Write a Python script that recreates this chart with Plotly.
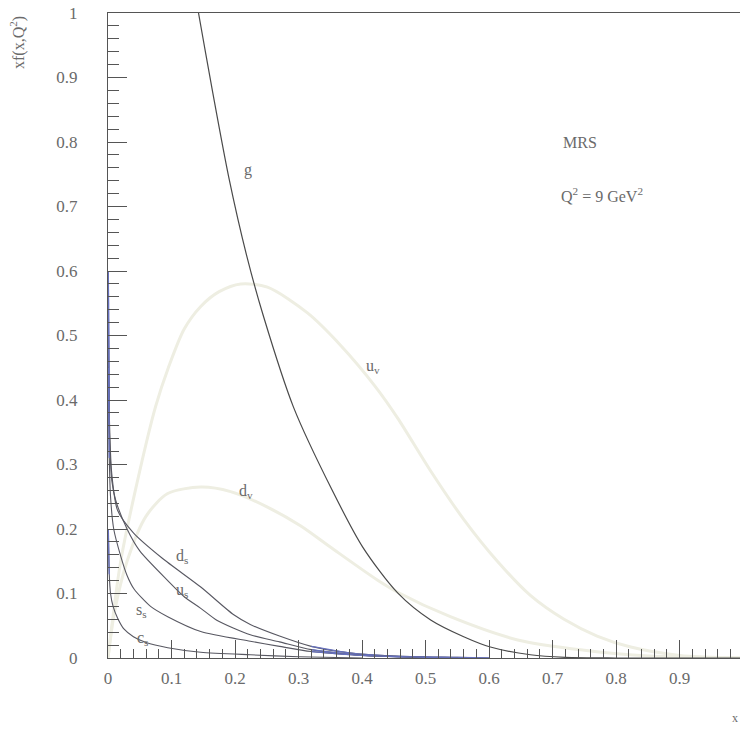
import plotly.graph_objects as go

# Parton distributions xf(x, Q^2) at Q^2 = 9 GeV^2 (MRS set)
g_x = [0.12, 0.1425, 0.165, 0.19, 0.218, 0.245, 0.292, 0.353, 0.401, 0.456,
       0.508, 0.56, 0.602, 0.665, 0.72, 0.8, 0.9, 1.0]
g_y = [1.126, 1.0, 0.876, 0.746, 0.625, 0.529, 0.389, 0.26, 0.172, 0.101,
       0.059, 0.033, 0.017, 0.005, 0.001, 0.0, 0.0, 0.0]

uv_x = [0.0, 0.02, 0.05, 0.075, 0.095, 0.12, 0.146, 0.175, 0.209, 0.251, 0.314,
        0.366, 0.42, 0.456, 0.508, 0.56, 0.613, 0.665, 0.718, 0.77, 0.823, 0.9, 1.0]
uv_y = [0.0, 0.15, 0.29, 0.39, 0.45, 0.51, 0.545, 0.568, 0.58, 0.575, 0.535,
        0.485, 0.422, 0.372, 0.29, 0.215, 0.15, 0.097, 0.06, 0.034, 0.017, 0.004, 0.0]

dv_x = [0.0, 0.01, 0.03, 0.06, 0.094, 0.146, 0.193, 0.251, 0.303, 0.35, 0.424,
        0.456, 0.539, 0.645, 0.75, 0.85, 1.0]
dv_y = [0.0, 0.07, 0.15, 0.22, 0.255, 0.265, 0.258, 0.234, 0.205, 0.172, 0.121,
        0.102, 0.064, 0.028, 0.012, 0.003, 0.0]

ds_x = [0.0005, 0.002, 0.006, 0.015, 0.04, 0.085, 0.146, 0.198, 0.224, 0.27,
        0.32, 0.38, 0.45, 0.55, 0.6]
ds_y = [0.60, 0.38, 0.285, 0.229, 0.194, 0.155, 0.11, 0.067, 0.052, 0.034,
        0.018, 0.008, 0.003, 0.001, 0.0]

us_x = [0.0005, 0.002, 0.006, 0.012, 0.03, 0.05, 0.094, 0.12, 0.146, 0.172,
        0.198, 0.224, 0.27, 0.32, 0.38, 0.45, 0.55]
us_y = [0.58, 0.36, 0.275, 0.245, 0.20, 0.166, 0.12, 0.095, 0.077, 0.058,
        0.046, 0.036, 0.025, 0.013, 0.006, 0.002, 0.0]

ss_x = [0.0005, 0.002, 0.004, 0.009, 0.02, 0.03, 0.041, 0.067, 0.094, 0.146,
        0.224, 0.27, 0.32, 0.4, 0.5]
ss_y = [0.45, 0.31, 0.25, 0.20, 0.158, 0.128, 0.107, 0.08, 0.064, 0.041,
        0.026, 0.018, 0.01, 0.004, 0.001]

cs_x = [0.0005, 0.002, 0.004, 0.008, 0.015, 0.025, 0.04, 0.06, 0.094, 0.146, 0.224, 0.3, 0.4]
cs_y = [0.20, 0.13, 0.10, 0.08, 0.062, 0.045, 0.033, 0.024, 0.016, 0.009, 0.005, 0.002, 0.0]

x_ticks = [0, 0.1, 0.2, 0.3, 0.4, 0.5, 0.6, 0.7, 0.8, 0.9]
x_tick_text = ["0", "0.1", "0.2", "0.3", "0.4", "0.5", "0.6", "0.7", "0.8", "0.9"]
y_ticks = [0, 0.1, 0.2, 0.3, 0.4, 0.5, 0.6, 0.7, 0.8, 0.9, 1.0]
y_tick_text = ["0", "0.1", "0.2", "0.3", "0.4", "0.5", "0.6", "0.7", "0.8", "0.9", "1"]

SERIF = "'Liberation Serif', 'Times New Roman', 'DejaVu Serif', serif"
INK = "#555555"
TEXT = "#6a6a6a"
VALENCE = "#eeeee2"
SEA = "#585862"
SEA_DENSE = "#6670bd"

fig = go.Figure()

# faint valence curves
for xs, ys in [(uv_x, uv_y), (dv_x, dv_y)]:
    fig.add_trace(go.Scatter(x=xs, y=ys, mode="lines",
                             line=dict(color=VALENCE, width=3, shape="spline", smoothing=0.8),
                             hoverinfo="skip", showlegend=False))

# gluon
fig.add_trace(go.Scatter(x=g_x, y=g_y, mode="lines",
                         line=dict(color="#4a4a4a", width=1.2, shape="spline", smoothing=0.8),
                         hoverinfo="skip", showlegend=False))

# sea quarks; the crowded small-x and large-x stretches are drawn in blue
for xs, ys in [(ds_x, ds_y), (us_x, us_y), (ss_x, ss_y), (cs_x, cs_y)]:
    fig.add_trace(go.Scatter(x=xs, y=ys, mode="lines",
                             line=dict(color=SEA, width=1.1, shape="spline", smoothing=0.7),
                             hoverinfo="skip", showlegend=False))
    lo = [(a, b) for a, b in zip(xs, ys) if a <= 0.002]
    hi = [(a, b) for a, b in zip(xs, ys) if a >= 0.32]
    for seg in (lo, hi):
        if len(seg) > 1:
            fig.add_trace(go.Scatter(x=[p[0] for p in seg], y=[p[1] for p in seg], mode="lines",
                                     line=dict(color=SEA_DENSE, width=1.3, shape="spline", smoothing=0.5),
                                     hoverinfo="skip", showlegend=False))

labels = [
    (0.22, 0.757, "g"),
    (0.417, 0.452, "u<sub>v</sub>"),
    (0.217, 0.258, "d<sub>v</sub>"),
    (0.116, 0.158, "d<sub>s</sub>"),
    (0.116, 0.105, "u<sub>s</sub>"),
    (0.052, 0.073, "s<sub>s</sub>"),
    (0.055, 0.030, "c<sub>s</sub>"),
]
for lx, ly, txt in labels:
    fig.add_annotation(x=lx, y=ly, text=txt, showarrow=False,
                       font=dict(family=SERIF, size=16, color=TEXT))

fig.add_annotation(x=0.713, y=0.80, text="MRS", showarrow=False, xanchor="left",
                   font=dict(family=SERIF, size=16, color=TEXT))
fig.add_annotation(x=0.71, y=0.718, text="Q<sup>2</sup> = 9 GeV<sup>2</sup>", showarrow=False,
                   xanchor="left", font=dict(family=SERIF, size=16, color=TEXT))

fig.add_annotation(xref="paper", yref="paper", x=-0.144, y=0.955, text="xf(x,Q<sup>2</sup>)",
                   textangle=-90, showarrow=False, xanchor="center", yanchor="middle",
                   font=dict(family=SERIF, size=16, color=TEXT))
fig.add_annotation(xref="paper", yref="paper", x=0.992, y=-0.093, text="x", showarrow=False,
                   xanchor="center", yanchor="middle",
                   font=dict(family=SERIF, size=12, color=TEXT))

fig.update_xaxes(range=[0, 0.995], tickvals=x_ticks, ticktext=x_tick_text,
                 ticks="inside", ticklen=18, tickwidth=1, tickcolor=INK,
                 minor=dict(dtick=0.02, ticks="inside", ticklen=9, tickwidth=1, tickcolor=INK),
                 showline=True, linecolor=INK, linewidth=1.2, mirror=True,
                 showgrid=False, zeroline=False, ticklabelstandoff=4,
                 tickfont=dict(family=SERIF, size=17, color=TEXT))
fig.update_yaxes(range=[0, 1], tickvals=y_ticks, ticktext=y_tick_text,
                 ticks="inside", ticklen=19, tickwidth=1, tickcolor=INK,
                 minor=dict(dtick=0.02, ticks="inside", ticklen=11, tickwidth=1, tickcolor=INK),
                 showline=True, linecolor=INK, linewidth=1.2, mirror=False,
                 showgrid=False, zeroline=False, ticklabelstandoff=26,
                 tickfont=dict(family=SERIF, size=17, color=TEXT))

fig.update_layout(width=740, height=737, margin=dict(l=108, r=0, t=13, b=79),
                  paper_bgcolor="white", plot_bgcolor="white",
                  font=dict(family=SERIF, color=TEXT))

fig.write_html("out.html")
